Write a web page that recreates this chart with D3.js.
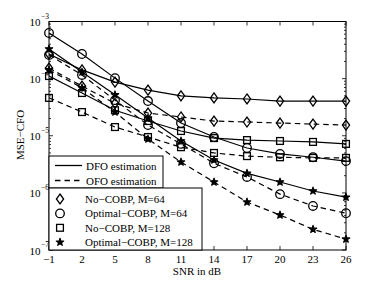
<!DOCTYPE html>
<html><head><meta charset="utf-8">
<script src="https://cdn.jsdelivr.net/npm/d3@7"></script>
<style>body{margin:0;background:#fff} svg{display:block}</style>
</head><body>
<script>
// ---- data ----
const snr = [-1, 2, 5, 8, 11, 14, 17, 20, 23, 26];
const yTickExps = [-3, -4, -5, -6, -7];
const noCobp64DFO  = [2.7e-4, 1.42e-4, 8.7e-5, 6.3e-5, 5.0e-5, 4.6e-5, 4.4e-5, 4.05e-5, 4.05e-5, 4.05e-5];
const noCobp64OFO  = [1.53e-4, 7.4e-5, 3.7e-5, 2.5e-5, 2.13e-5, 1.81e-5, 1.74e-5, 1.67e-5, 1.6e-5, 1.54e-5];
const optCobp64DFO = [6.3e-4, 2.7e-4, 1.02e-4, 4.05e-5, 1.67e-5, 9.5e-6, 6.1e-6, 4.8e-6, 4.2e-6, 3.6e-6];
const optCobp64OFO = [2.6e-4, 1.16e-4, 4.2e-5, 1.54e-5, 7.2e-6, 3.3e-6, 1.9e-6, 9.5e-7, 5.9e-7, 4.4e-7];
const noCobp128DFO = [1.11e-4, 5.6e-5, 2.8e-5, 1.81e-5, 1.21e-5, 9.1e-6, 8.4e-6, 8.1e-6, 7.8e-6, 7.2e-6];
const noCobp128OFO = [4.6e-5, 2.6e-5, 1.42e-5, 9.5e-6, 6.3e-6, 5.0e-6, 4.4e-6, 4.2e-6, 4.1e-6, 4.1e-6];
const optCobp128DFO = [3.3e-4, 1.3e-4, 5.2e-5, 2.04e-5, 8.1e-6, 3.75e-6, 2.2e-6, 1.55e-6, 1.08e-6, 8.4e-7];
const optCobp128OFO = [1.42e-4, 6.9e-5, 2.6e-5, 8.75e-6, 3.46e-6, 1.55e-6, 6.9e-7, 4.1e-7, 2.3e-7, 1.55e-7];
const lineLegend = ["DFO estimation", "OFO estimation"];
const markerLegend = ["No\u2212COBP, M=64", "Optimal\u2212COBP, M=64", "No\u2212COBP, M=128", "Optimal\u2212COBP, M=128"];
const markerKinds = ["diamond", "circle", "square", "star"];

const series = [
  {v: noCobp64DFO, dashed: false, m: "diamond"},
  {v: noCobp64OFO, dashed: true, m: "diamond"},
  {v: optCobp64DFO, dashed: false, m: "circle"},
  {v: optCobp64OFO, dashed: true, m: "circle"},
  {v: noCobp128DFO, dashed: false, m: "square"},
  {v: noCobp128OFO, dashed: true, m: "square"},
  {v: optCobp128DFO, dashed: false, m: "star"},
  {v: optCobp128OFO, dashed: true, m: "star"}
];

const W = 382, H = 282;
const L = 49, R = 346, T = 21.5, B = 250;
const font = "'Liberation Serif', 'Times New Roman', serif";

const svg = d3.select("body").append("svg").attr("width", W).attr("height", H)
  .style("font-family", font);

const x = d3.scaleLinear().domain([-1, 26]).range([L, R]);
const y = d3.scaleLog().domain([1e-7, 1e-3]).range([B, T]);

svg.append("clipPath").attr("id", "clip").append("rect")
  .attr("x", L).attr("y", T).attr("width", R - L).attr("height", B - T);

// ticks
const tk = svg.append("g").attr("stroke", "#000").attr("stroke-width", 0.8);
snr.forEach(s => {
  const px = x(s);
  tk.append("line").attr("x1", px).attr("x2", px).attr("y1", B).attr("y2", B - 4);
  tk.append("line").attr("x1", px).attr("x2", px).attr("y1", T).attr("y2", T + 4);
});
yTickExps.forEach(e => {
  const py = y(Math.pow(10, e));
  tk.append("line").attr("x1", L).attr("x2", L + 4).attr("y1", py).attr("y2", py);
  tk.append("line").attr("x1", R).attr("x2", R - 4).attr("y1", py).attr("y2", py);
  if (e > -7) {
    for (let k = 2; k <= 9; k++) {
      const pm = y(k * Math.pow(10, e - 1));
      tk.append("line").attr("x1", L).attr("x2", L + 2).attr("y1", pm).attr("y2", pm);
      tk.append("line").attr("x1", R).attr("x2", R - 2).attr("y1", pm).attr("y2", pm);
    }
  }
});

// x tick labels
svg.append("g").selectAll("text").data(snr).join("text")
  .attr("x", d => x(d)).attr("y", 263).attr("text-anchor", "middle")
  .attr("font-size", 11).text(d => d < 0 ? "\u2212" + Math.abs(d) : d);

// y tick labels
const yl = svg.append("g");
yTickExps.forEach(e => {
  const py = y(Math.pow(10, e));
  yl.append("text").attr("x", 40.5).attr("y", py + 4.5).attr("text-anchor", "end")
    .attr("font-size", 11).text("10");
  yl.append("text").attr("x", 41).attr("y", py - 3).attr("font-size", 7.5)
    .text("\u2212" + Math.abs(e));
});

// axis titles
svg.append("text").attr("x", 197).attr("y", 274.5).attr("text-anchor", "middle")
  .attr("font-size", 11).text("SNR in dB");
svg.append("text").attr("transform", "translate(24,135) rotate(-90)")
  .attr("text-anchor", "middle").attr("font-size", 11).text("MSE\u2212CFO");

// markers
function marker(g, kind, cx, cy) {
  if (kind === "circle") {
    g.append("circle").attr("cx", cx).attr("cy", cy).attr("r", 4.3)
      .attr("fill", "none").attr("stroke", "#000").attr("stroke-width", 1.3);
  } else if (kind === "square") {
    g.append("rect").attr("x", cx - 3.4).attr("y", cy - 3.4).attr("width", 6.8).attr("height", 6.8)
      .attr("fill", "none").attr("stroke", "#000").attr("stroke-width", 1.3);
  } else if (kind === "diamond") {
    g.append("path").attr("d", `M${cx},${cy - 5}L${cx + 3.6},${cy}L${cx},${cy + 5}L${cx - 3.6},${cy}Z`)
      .attr("fill", "none").attr("stroke", "#000").attr("stroke-width", 1.3);
  } else {
    g.append("path").attr("d", d3.symbol(d3.symbolStar, 17)())
      .attr("transform", `translate(${cx},${cy})`).attr("fill", "#000")
      .attr("stroke", "#000").attr("stroke-width", 1.2).attr("stroke-linejoin", "round");
  }
}

const plot = svg.append("g").attr("clip-path", "url(#clip)");
const line = d3.line().x((d, i) => x(snr[i])).y(d => y(d));
series.forEach(s => {
  plot.append("path").attr("d", line(s.v)).attr("fill", "none")
    .attr("stroke", "#000").attr("stroke-width", 1.2)
    .attr("stroke-dasharray", s.dashed ? "5.5,4" : null);
});
const mg = svg.append("g");
series.forEach(s => s.v.forEach((d, i) => marker(mg, s.m, x(snr[i]), y(d))));

// frame
svg.append("rect").attr("x", L).attr("y", T).attr("width", R - L).attr("height", B - T)
  .attr("fill", "none").attr("stroke", "#000").attr("stroke-width", 1);

// legends
const lg = svg.append("g");
lg.append("rect").attr("x", L).attr("y", 156).attr("width", 163 - L).attr("height", 188 - 156)
  .attr("fill", "#fff").attr("stroke", "#000").attr("stroke-width", 1);
lineLegend.forEach((t, i) => {
  const ly = 165.5 + i * 15;
  lg.append("line").attr("x1", 55).attr("x2", 82).attr("y1", ly).attr("y2", ly)
    .attr("stroke", "#000").attr("stroke-width", 1.3)
    .attr("stroke-dasharray", i === 1 ? "5.5,4" : null);
  lg.append("text").attr("x", 86).attr("y", ly + 4).attr("font-size", 11).text(t);
});
lg.append("rect").attr("x", L).attr("y", 188).attr("width", 202 - L).attr("height", B - 188)
  .attr("fill", "#fff").attr("stroke", "#000").attr("stroke-width", 1);
markerLegend.forEach((t, i) => {
  const ly = 199 + i * 14.4;
  marker(lg, markerKinds[i], 60, ly);
  lg.append("text").attr("x", 85).attr("y", ly + 4).attr("font-size", 11).text(t);
});
</script>
</body></html>
